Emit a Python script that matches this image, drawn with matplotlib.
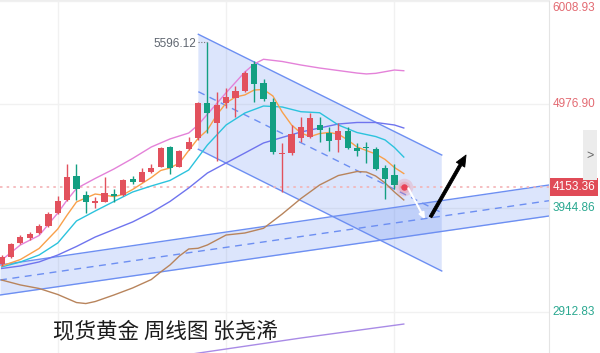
import matplotlib
matplotlib.use("Agg")
import matplotlib.pyplot as plt
from matplotlib.patches import Polygon, Rectangle, FancyArrowPatch
import matplotlib.transforms as mtransforms
import numpy as np

plt.rcParams['font.family'] = ['Liberation Sans', 'DejaVu Sans']

# ---------------- data ----------------
opens  = [3388, 3454, 3600, 3643, 3693, 3766, 3892, 4025, 4263, 4074, 3992, 4008, 4084, 4074, 4234,
          4207, 4303, 4356, 4555, 4356, 4535, 4639, 4993, 4788, 4993, 5043, 5112, 5375, 5192, 5003,
          4479, 4489, 4639, 4655, 4768, 4694, 4622, 4711, 4539, 4555, 4529, 4340, 4273]
highs  = [3477, 3600, 3676, 3709, 3786, 3908, 4064, 4383, 4383, 4117, 4051, 4250, 4131, 4234, 4263,
          4340, 4383, 4555, 4562, 4522, 4649, 5000, 5596.12, 5102, 5136, 5159, 5311, 5411, 5226, 5037,
          4595, 4771, 4854, 4887, 4848, 4754, 4794, 4748, 4595, 4605, 4555, 4373, 4383]
lows   = [3368, 3447, 3587, 3631, 3686, 3756, 3885, 4010, 4025, 3892, 3942, 4000, 4008, 4064, 4184,
          4199, 4293, 4348, 4283, 4348, 4527, 4622, 4688, 4416, 4937, 4854, 5102, 5003, 5013, 4482,
          4107, 4472, 4605, 4639, 4605, 4515, 4505, 4529, 4462, 4390, 4323, 4032, 4131]
closes = [3454, 3587, 3653, 3686, 3766, 3885, 4015, 4250, 4131, 4008, 4018, 4097, 4064, 4224, 4204,
          4303, 4346, 4539, 4340, 4512, 4602, 4993, 4893, 4970, 5053, 5109, 5285, 5179, 5027, 4505,
          4495, 4681, 4748, 4838, 4721, 4615, 4714, 4539, 4515, 4539, 4330, 4231, 4174]

ma_pink_x = [0, 2, 4, 6, 7, 8, 10, 12, 14, 16, 18, 20, 21, 22, 24, 26, 27, 28, 30, 32, 34, 36, 38, 39, 40, 42, 43]
ma_pink_y = [3427, 3577, 3671, 3895, 4025, 4139, 4239, 4333, 4438, 4552, 4632, 4691, 4771, 4878, 5092,
             5298, 5378, 5425, 5403, 5368, 5338, 5313, 5288, 5279, 5285, 5318, 5311]

ma_orange_x = [0, 2, 4, 6, 7, 8, 10, 12, 13, 14, 16, 17, 18, 19, 20, 21, 22, 23, 24, 25, 26, 27, 28, 29,
               30, 31, 32, 33, 34, 35, 36, 37, 38, 39, 40, 41, 42, 43]
ma_orange_y = [3368, 3432, 3542, 3736, 3875, 4005, 4084, 4059, 4079, 4129, 4248, 4318, 4343, 4393, 4517,
               4637, 4721, 4870, 4990, 5050, 5070, 5119, 5124, 5060, 4900, 4771, 4691, 4656, 4686, 4696,
               4681, 4622, 4552, 4517, 4482, 4428, 4348, 4288]

ma_cyan_x = [0, 2, 4, 6, 8, 10, 12, 14, 16, 18, 20, 22, 24, 26, 28, 30, 32, 34, 36, 38, 40, 41, 42, 43]
ma_cyan_y = [3358, 3408, 3477, 3597, 3816, 3915, 4010, 4104, 4164, 4219, 4323, 4572, 4771, 4890, 4960,
             4950, 4903, 4893, 4771, 4696, 4656, 4622, 4547, 4452]

ma_blue_x = [0, 2, 4, 6, 8, 10, 12, 14, 16, 18, 20, 22, 24, 26, 28, 30, 32, 34, 36, 38, 40, 42, 43]
ma_blue_y = [3343, 3368, 3408, 3477, 3562, 3656, 3731, 3806, 3900, 4010, 4144, 4293, 4393, 4492, 4592,
             4647, 4701, 4741, 4781, 4796, 4796, 4771, 4741]

ma_brown_x = [0, 2, 4, 6, 8, 9, 10, 12, 14, 16, 17, 18, 19, 20, 21, 22, 24, 26, 28, 30, 32, 34, 36, 38,
              39, 40, 41, 42, 43]
ma_brown_y = [3228, 3179, 3144, 3084, 3004, 2994, 3014, 3079, 3149, 3233, 3308, 3378, 3467, 3537, 3544,
              3577, 3676, 3696, 3743, 3885, 4039, 4174, 4268, 4308, 4303, 4263, 4194, 4104, 4025]

ma_purple_x = [20, 32, 43]
ma_purple_y = [2487, 2651, 2790]

# descending channel (index, price) : upper / middle / lower
down_x = [21.03, 47.06]
down_upper = [5673.5, 4472.3]
down_mid = [5102.3, 3898.1]
down_lower = [4529.1, 3317.9]

# ascending channel
up_x = [-0.18, 58.53]
up_upper = [3377.6, 4173.8]
up_mid = [3228.3, 4017.5]
up_lower = [3079.0, 3865.3]

grid_levels = [6008.93, 4976.90, 3944.86, 2912.83]
grid_level_labels = ["6008.93", "4976.90", "3944.86", "2912.83"]
vgrid_idx = [6, 24, 42]
last_price = 4153.36
last_label = "4153.36"
last_idx = 43
peak_idx = 22
peak_price = 5596.12
peak_label = "5596.12"

arrow_down = [(43.49, 4141), (45.27, 3832)]
arrow_up = [(45.86, 3855), (49.66, 4472)]

title_text = "现货黄金 周线图 张尧浠"

# ---------------- plotting ----------------
W, H = 600, 353
fig = plt.figure(figsize=(W / 100, H / 100), dpi=100)
ax = fig.add_axes([0, 0, 549 / W, 1])
ax.set_xlim(-0.18, 58.53)
ax.set_ylim(2501.8, 6014.9)
ax.set_xticks([])
ax.set_yticks([])
for s in ['left', 'bottom']:
    ax.spines[s].set_visible(False)
ax.spines['right'].set_color('#e4e4e4')
ax.spines['top'].set_color('#eeeeee')

for g in grid_levels:
    ax.axhline(g, color='#f1f1f1', lw=1, zorder=0)
for v in vgrid_idx:
    ax.axvline(v, color='#f1f1f1', lw=1, zorder=0)

fill_c = '#4a78f0'
line_c = '#6d8ff2'
# ascending channel
ax.fill_between(up_x, up_lower, up_upper, color=fill_c, alpha=0.19, lw=0, zorder=1)
ax.plot(up_x, up_upper, color=line_c, lw=1, zorder=2)
ax.plot(up_x, up_lower, color=line_c, lw=1, zorder=2)
ax.plot(up_x, up_mid, color=line_c, lw=1, ls=(0, (5, 4)), zorder=2)
# descending channel
poly = Polygon([(down_x[0], down_upper[0]), (down_x[1], down_upper[1]),
                (down_x[1], down_lower[1]), (down_x[0], down_lower[0])],
               closed=True, facecolor=fill_c, alpha=0.19, lw=0, zorder=1)
ax.add_patch(poly)
ax.plot(down_x, down_upper, color=line_c, lw=1, zorder=2)
ax.plot(down_x, down_lower, color=line_c, lw=1, zorder=2)
ax.plot(down_x, down_mid, color=line_c, lw=1, ls=(0, (5, 4)), zorder=2)

# current price dotted line
ax.axhline(last_price, color='#f3b3b6', lw=1.2, ls=(0, (1.5, 2.5)), zorder=2)

# moving averages
ax.plot(ma_purple_x, ma_purple_y, color='#a98be6', lw=1, zorder=3)
ax.plot(ma_brown_x, ma_brown_y, color='#b8845c', lw=1, zorder=3)
ax.plot(ma_blue_x, ma_blue_y, color='#6f74ee', lw=1, zorder=3)
ax.plot(ma_cyan_x, ma_cyan_y, color='#2cc3dd', lw=1, zorder=3)
ax.plot(ma_pink_x, ma_pink_y, color='#e482d9', lw=1, zorder=3)
ax.plot(ma_orange_x, ma_orange_y, color='#f9a04a', lw=1, zorder=3)

# candles
up_col = '#e2515d'
dn_col = '#139f82'
idx = np.arange(len(opens))
for i in idx:
    o, h, l, c = opens[i], highs[i], lows[i], closes[i]
    col = up_col if c >= o else dn_col
    ax.vlines(i, l, h, color=col, lw=1, zorder=4)
    bot = min(o, c)
    ht = max(abs(c - o), 12)
    ax.bar(i, ht, bottom=bot, width=0.66, color=col, lw=0, zorder=5)

# peak label
ax.plot([peak_idx - 1.05, peak_idx], [peak_price, peak_price], color='#777777', lw=0.8,
        ls=(0, (1, 1.5)), zorder=4)
ax.annotate(peak_label, xy=(peak_idx - 1.15, peak_price), xytext=(0, -1.5), textcoords='offset points',
            ha='right', va='center', fontsize=8.5, color='#5f6670', zorder=6)

# current price dot
ax.scatter([last_idx], [last_price], s=160, color='#f07080', alpha=0.22, lw=0, zorder=6)
ax.scatter([last_idx], [last_price], s=70, color='#f07080', alpha=0.25, lw=0, zorder=6)
ax.scatter([last_idx], [last_price], s=22, color='#e84457', lw=0, zorder=7)

# arrows
a1 = FancyArrowPatch(arrow_down[0], arrow_down[1],
                     arrowstyle='-|>,head_length=3.5,head_width=1.6', color='white', lw=1.5,
                     shrinkA=0, shrinkB=0, zorder=7)
ax.add_patch(a1)
a2 = FancyArrowPatch(arrow_up[0], arrow_up[1],
                     arrowstyle='simple,head_length=0.8,head_width=0.7,tail_width=0.22',
                     mutation_scale=10, color='black', lw=0.6, shrinkA=0, shrinkB=0, zorder=7)
ax.add_patch(a2)

# title
ax.text(53 / 549, 1 - 331 / H, title_text, transform=ax.transAxes, ha='left', va='center',
        fontsize=15.5, color='#1b1b1b', family=['Noto Sans CJK SC', 'DejaVu Sans'], zorder=8)

# right axis labels
trans = mtransforms.blended_transform_factory(ax.transAxes, ax.transData)
lab_cols = ['#e36a72', '#e36a72', '#2aa890', '#2aa890']
for g, lab, col in zip(grid_levels, grid_level_labels, lab_cols):
    if g == grid_levels[0]:
        ax.annotate(lab, xy=(1, g), xycoords=trans, xytext=(2.5, -5), textcoords='offset points',
                    ha='left', va='center', fontsize=8.5, color=col, annotation_clip=False)
    else:
        ax.annotate(lab, xy=(1, g), xycoords=trans, xytext=(2.5, 0), textcoords='offset points',
                    ha='left', va='center', fontsize=8.5, color=col, annotation_clip=False)

# ">" tab
tab = Rectangle((583 / W, 1 - 180 / H), 14 / W, 50 / H, transform=fig.transFigure,
                facecolor='#ececec', edgecolor='none', zorder=1)
fig.patches.append(tab)
fig.text(590 / W, 1 - 156 / H, '>', ha='center', va='center', fontsize=9, color='#666666')

# last price box
ax.annotate(last_label, xy=(1, last_price), xycoords=trans, xytext=(2.5, 0), textcoords='offset points',
            ha='left', va='center', fontsize=8.5, color='white', annotation_clip=False, zorder=10,
            bbox=dict(boxstyle='square,pad=0.25', facecolor='#e04b57', edgecolor='none'))

fig.savefig('out.png', dpi=100)
